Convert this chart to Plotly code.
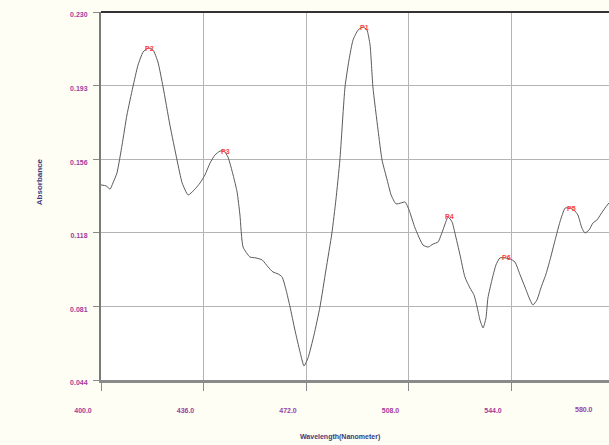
import numpy as np
import plotly.graph_objects as go

# Absorbance spectrum (wavelength in nm, absorbance)
wavelength = [
    400.0, 401.8, 403.2, 404.2, 405.6, 407.4, 409.1, 411.2, 413.0, 414.8,
    416.5, 418.3, 420.0, 421.8, 424.2, 426.7, 428.5, 430.6, 432.7, 434.8,
    436.5, 438.3, 440.0, 441.8, 443.2, 444.6, 446.4, 447.8, 448.8, 449.9,
    452.3, 454.4, 456.6, 458.7, 460.4, 462.2, 463.6, 465.0, 466.4, 468.1,
    469.9, 471.3, 472.7, 474.8, 476.9, 479.0, 481.1, 482.5, 483.9, 485.7,
    487.1, 488.5, 490.3, 492.0, 493.4, 494.5, 495.5, 497.3, 498.7, 500.5,
    501.9, 503.6, 505.4, 506.8, 508.2, 510.3, 513.1, 514.9, 516.6, 518.4,
    520.1, 521.9, 523.3, 524.3, 526.1, 527.8, 529.6, 531.0, 532.1, 533.1,
    534.2, 535.2, 535.9, 537.3, 538.7, 540.1, 541.9, 543.7, 545.4, 547.2,
    548.9, 550.7, 551.7, 553.1, 554.5, 556.3, 557.7, 559.5, 561.2, 563.0,
    564.7, 566.1, 567.5, 568.9, 570.0, 571.4, 572.8, 574.2, 575.6, 577.0,
    578.4,
]
absorbance = [
    0.1426, 0.1421, 0.1405, 0.1436, 0.1486, 0.1628, 0.1779, 0.1921, 0.2032, 0.2098,
    0.2118, 0.2108, 0.2047, 0.1921, 0.1729, 0.1552, 0.1436, 0.1375, 0.1400, 0.1436,
    0.1476, 0.1537, 0.1577, 0.1597, 0.1597, 0.1567, 0.1476, 0.1390, 0.1274, 0.1112,
    0.1062, 0.1057, 0.1047, 0.1011, 0.0986, 0.0976, 0.0961, 0.0895, 0.0809, 0.0693,
    0.0582, 0.0511, 0.0551, 0.0667, 0.0809, 0.0996, 0.1183, 0.1350, 0.1552, 0.1921,
    0.2057, 0.2158, 0.2209, 0.2224, 0.2209, 0.2133, 0.1921, 0.1704, 0.1552, 0.1451,
    0.1375, 0.1330, 0.1335, 0.1340, 0.1299, 0.1208, 0.1122, 0.1112, 0.1127, 0.1138,
    0.1198, 0.1264, 0.1239, 0.1183, 0.1072, 0.0961, 0.0905, 0.0870, 0.0809, 0.0743,
    0.0703, 0.0753, 0.0855, 0.0945, 0.1021, 0.1057, 0.1057, 0.1052, 0.1036, 0.0971,
    0.0910, 0.0844, 0.0819, 0.0844, 0.0905, 0.0976, 0.1047, 0.1148, 0.1239, 0.1309,
    0.1309, 0.1299, 0.1274, 0.1208, 0.1183, 0.1198, 0.1234, 0.1249, 0.1279, 0.1309,
    0.1335,
]

# Labelled peaks
peak_names = ["P2", "P3", "P1", "P4", "P6", "P5"]
peak_wavelength = [416.5, 443.2, 492.0, 521.9, 541.9, 564.7]
peak_absorbance = [0.2118, 0.1597, 0.2224, 0.1264, 0.1057, 0.1309]

# Axis ticks
x_ticks = [400.0, 436.0, 472.0, 508.0, 544.0, 580.0]
y_ticks = list(np.linspace(0.044, 0.230, 6))
x_range = [400.0, 578.42]
y_range = [0.044, 0.230]

tick_color = "#a03ca0"
title_color = "#3a3a7a"
tick_font = dict(family="Liberation Sans", size=7, color=tick_color, weight="bold")

fig = go.Figure()
fig.add_trace(go.Scatter(
    x=wavelength, y=absorbance, mode="lines",
    line=dict(color="#5a5a5a", width=1, shape="spline", smoothing=0.5),
    hoverinfo="skip", showlegend=False,
))

for name, px, py in zip(peak_names, peak_wavelength, peak_absorbance):
    fig.add_annotation(
        x=px, y=py, text=name, showarrow=False,
        xanchor="left", yanchor="middle", xshift=-5, yshift=0,
        font=dict(family="Liberation Sans", size=7, color="#ff4040", weight="bold"),
    )

# Last wavelength tick sits just past the visible edge of the plot
last_tick = x_ticks[-1]
fig.add_annotation(
    x=(last_tick - x_range[0]) / (x_range[1] - x_range[0]), xref="paper",
    y=0, yref="paper", yanchor="middle", yshift=-29, xshift=-18,
    text=f"{last_tick:.1f}", showarrow=False, font=tick_font,
)

# Axis titles
fig.add_annotation(
    x=0.47, xref="paper", y=-0.155, yref="paper", yanchor="middle",
    text="Wavelength(Nanometer)", showarrow=False,
    font=dict(family="Liberation Sans", size=7, color=title_color, weight="bold"),
)
fig.add_annotation(
    x=-0.135, xref="paper", y=0.54, yref="paper", textangle=-90,
    text="Absorbance", showarrow=False,
    font=dict(family="Liberation Sans", size=8, color=title_color, weight="bold"),
)

# Dark top border of the plot area
fig.add_shape(type="line", xref="paper", yref="paper", x0=0, x1=1, y0=1, y1=1,
              line=dict(color="#333333", width=2))

fig.update_xaxes(
    range=x_range, tickvals=x_ticks, tickformat=".1f",
    ticks="outside", ticklen=8, tickcolor="#888888", tickwidth=1,
    ticklabelshift=-18, ticklabelstandoff=14,
    tickfont=tick_font,
    showgrid=True, gridcolor="#b4b4b4", gridwidth=1,
    showline=True, linecolor="#8a8a8a", linewidth=3,
    zeroline=False,
)
fig.update_yaxes(
    range=y_range, tickvals=y_ticks, tickformat=".3f",
    ticks="outside", ticklen=6, tickcolor="#888888", tickwidth=1,
    ticklabelshift=3, ticklabelstandoff=4,
    tickfont=tick_font,
    showgrid=True, gridcolor="#b4b4b4", gridwidth=1,
    showline=True, linecolor="#7a7a7a", linewidth=2,
    zeroline=False,
)

fig.update_layout(
    width=609, height=445,
    margin=dict(l=101, r=0, t=12, b=65),
    paper_bgcolor="#fefef4",
    plot_bgcolor="#ffffff",
    showlegend=False,
)

fig.write_html("out.html")
